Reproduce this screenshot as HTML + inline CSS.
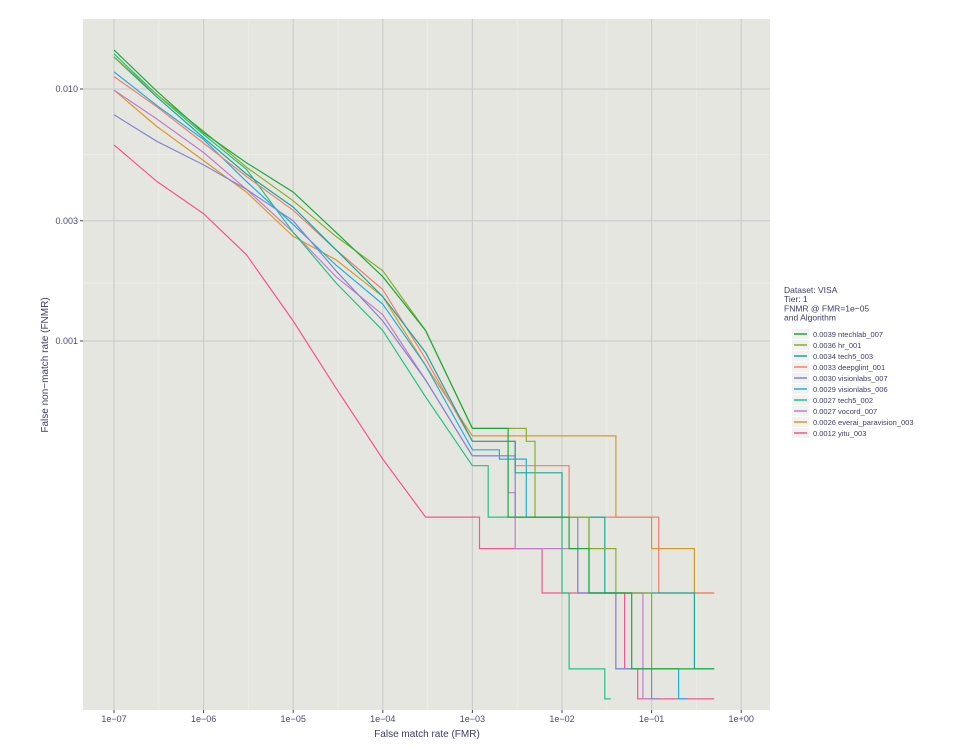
<!DOCTYPE html>
<html><head><meta charset="utf-8"><style>
body{margin:0;background:#fff;font-family:"Liberation Sans",sans-serif;}
svg text{font-family:"Liberation Sans",sans-serif;}
</style></head><body>
<svg id="chart" width="963" height="747" xmlns="http://www.w3.org/2000/svg">
<rect x="83" y="19" width="687" height="691" fill="#e6e6e1"/>
<g id="grid"></g><g id="series"></g><g id="axes"></g><g id="legend"></g>
<text x="427" y="737" text-anchor="middle" font-size="10" fill="#3c3c6e">False match rate (FMR)</text>
<text transform="translate(48,365) rotate(-90)" text-anchor="middle" font-size="10" fill="#3c3c6e">False non−match rate (FNMR)</text>
</svg>
<script>
const xTicks=[1e-7,1e-6,1e-5,1e-4,1e-3,1e-2,1e-1,1];
const xTickLabels=["1e−07","1e−06","1e−05","1e−04","1e−03","1e−02","1e−01","1e+00"];
const yTicks=[0.01,0.003,0.001];
const yTickLabels=["0.010","0.003","0.001"];
const names=["ntechlab_007","hr_001","tech5_003","deepglint_001","visionlabs_007","visionlabs_006","tech5_002","vocord_007","everai_paravision_003","yitu_003"];
const fnmrAt1e5=["0.0039","0.0036","0.0034","0.0033","0.0030","0.0029","0.0027","0.0027","0.0026","0.0012"];
const colors=["#1aaa3c","#8aad2e","#17a99a","#f57c6e","#8585d0","#22aee0","#25c182","#c27ccc","#d89a2a","#f4568f"];
const fmrs=[1e-7,3e-7,1e-6,3e-6,1e-5,3e-5,1e-4,3e-4,1e-3];
const mainVals=[
[0.0143,0.0098,0.0067,0.0051,0.0039,0.0027,0.0018,0.0011,0.00045],
[0.0134,0.0095,0.0068,0.0049,0.0036,0.0026,0.0019,0.0011,0.00045],
[0.0134,0.0093,0.0064,0.0046,0.0034,0.0023,0.0015,0.0009,0.0004],
[0.0112,0.0085,0.0061,0.0045,0.0033,0.0023,0.0016,0.00085,0.0004],
[0.0079,0.0062,0.0050,0.0040,0.0030,0.0019,0.0012,0.0007,0.00035],
[0.0117,0.0086,0.0063,0.0043,0.0029,0.0020,0.0014,0.0008,0.00037],
[0.0138,0.0095,0.0066,0.0048,0.0027,0.0017,0.0011,0.0006,0.00032],
[0.0099,0.0076,0.0056,0.0040,0.0027,0.0018,0.00127,0.0007,0.00035],
[0.0099,0.0071,0.0052,0.0039,0.0026,0.0021,0.0015,0.0008,0.00042],
[0.0060,0.0043,0.0032,0.0022,0.0012,0.00065,0.00034,0.0002,0.0002]];
const tails=[
[[2.5e-3,0.0002],[1.2e-2,0.00015],[2e-2,1e-4],[6e-2,5e-5],[0.5,5e-5]],
[[4e-3,0.0004],[5e-3,0.0002],[2e-2,0.00015],[4e-2,1e-4],[0.1,5e-5],[0.2,5e-5]],
[[3e-3,0.0003],[1e-2,0.0002],[3e-2,1e-4],[0.3,5e-5],[0.5,5e-5]],
[[3e-3,0.00032],[1.2e-2,0.0002],[0.12,1e-4],[0.5,1e-4]],
[[3e-3,0.0002],[1.5e-2,1e-4],[4e-2,5e-5],[0.1,3.8e-5],[0.12,3.8e-5]],
[[2e-3,0.00034],[4e-3,0.0002],[2e-2,1e-4],[4e-2,5e-5],[0.2,3.8e-5],[0.25,3.8e-5]],
[[1.5e-3,0.0002],[1e-2,1e-4],[1.2e-2,5e-5],[3e-2,3.8e-5],[3.5e-2,3.8e-5]],
[[2.5e-3,0.00025],[3e-3,0.00015],[1.5e-2,1e-4],[0.08,3.8e-5],[0.1,3.8e-5]],
[[4e-2,0.0002],[0.1,0.00015],[0.3,1e-4],[0.5,1e-4]],
[[1.2e-3,0.00015],[6e-3,1e-4],[0.05,5e-5],[0.07,3.8e-5],[0.5,3.8e-5]]];
const NS="http://www.w3.org/2000/svg";
function X(f){return 114+89.6*(Math.log10(f)+7);}
function Y(v){return 89+252*(-2-Math.log10(v));}
function mk(t,a,p){const e=document.createElementNS(NS,t);for(const k in a)e.setAttribute(k,a[k]);p.appendChild(e);return e;}
const grid=document.getElementById('grid'),axes=document.getElementById('axes'),ser=document.getElementById('series'),leg=document.getElementById('legend');
for(let i=0;i<xTicks.length-1;i++){const l=mk('line',{x1:X(xTicks[i]*Math.sqrt(10)),x2:X(xTicks[i]*Math.sqrt(10)),y1:19,y2:710,stroke:'#efefeb','stroke-width':0.6},grid);

}
[0.0055,0.0017].forEach(v=>{const l=mk('line',{x1:83,x2:770,y1:Y(v),y2:Y(v),stroke:'#efefeb','stroke-width':0.6},grid);

});
xTicks.forEach((t,i)=>{const l=mk('line',{x1:X(t),x2:X(t),y1:19,y2:710,stroke:'#cbcfcb','stroke-width':1.2},grid);


const tk=mk('line',{x1:X(t),x2:X(t),y1:710,y2:713,stroke:'#444'},axes);


const tx=mk('text',{x:X(t),y:722,'text-anchor':'middle','font-size':9,fill:'#4a4a7a'},axes);tx.textContent=xTickLabels[i];

});
yTicks.forEach((t,i)=>{const l=mk('line',{x1:83,x2:770,y1:Y(t),y2:Y(t),stroke:'#cbcfcb','stroke-width':1.2},grid);


const tk=mk('line',{x1:80,x2:83,y1:Y(t),y2:Y(t),stroke:'#444'},axes);


const tx=mk('text',{x:78,y:Y(t)+3,'text-anchor':'end','font-size':9,fill:'#4a4a7a'},axes);tx.textContent=yTickLabels[i];

});
for(let s=names.length-1;s>=0;s--){
 const pts=fmrs.map((f,i)=>[f,mainVals[s][i]]);
 let d='M'+X(pts[0][0]).toFixed(1)+','+Y(pts[0][1]).toFixed(1);
 for(let i=1;i<pts.length;i++)d+='L'+X(pts[i][0]).toFixed(1)+','+Y(pts[i][1]).toFixed(1);
 tails[s].forEach(p=>{d+='H'+X(p[0]).toFixed(1)+'V'+Y(p[1]).toFixed(1);});
 const p=mk('path',{d:d,fill:'none',stroke:colors[s],'stroke-width':1.2},ser);
 
 
}
const titles=["Dataset: VISA","Tier: 1","FNMR @ FMR=1e−05","and Algorithm"];
titles.forEach((t,i)=>{const e=mk('text',{x:784,y:293+i*9.2,'font-size':8.5,fill:'#3c3c6e'},leg);e.textContent=t;

});
names.forEach((n,i)=>{const y=334+i*11;
 const r=mk('rect',{x:792,y:y-5,width:17,height:10,fill:'#f2f2f2'},leg);
 
 
 const l=mk('line',{x1:794,x2:807,y1:y,y2:y,stroke:colors[i],'stroke-width':1.5},leg);
 
 
 const t=mk('text',{x:813,y:y+3,'font-size':7.5,fill:'#3c3c6e'},leg);t.textContent=fnmrAt1e5[i]+'  '+n;
 
 });
</script>
</body></html>
